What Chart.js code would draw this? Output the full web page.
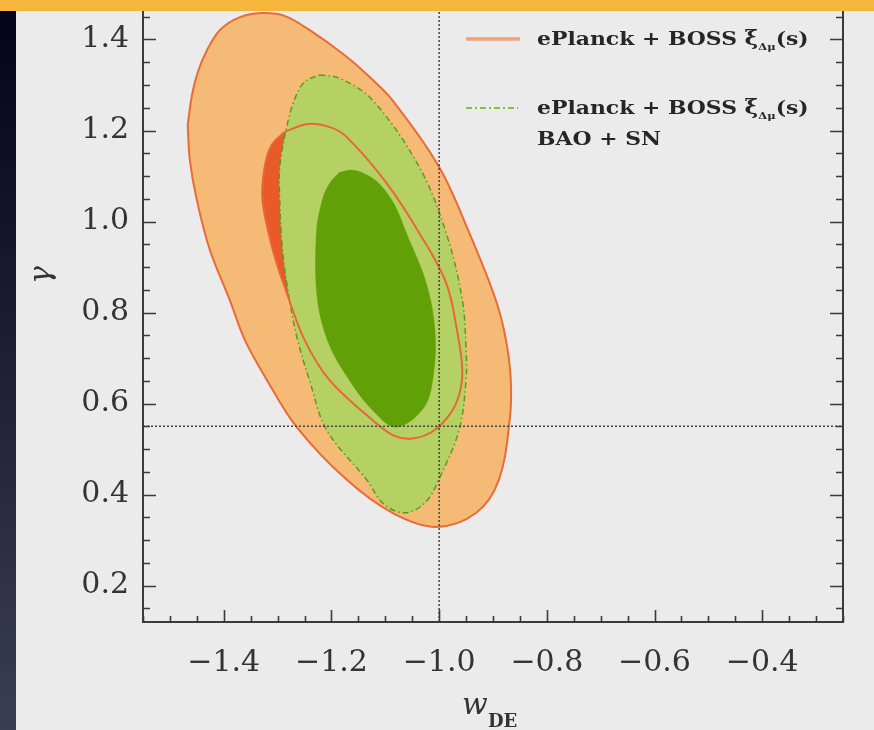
<!DOCTYPE html>
<html lang="en">
<head>
<meta charset="UTF-8">
<title>w_DE vs gamma</title>
<style>
  html, body { margin: 0; padding: 0; background: #ebebeb; }
  .page { position: relative; width: 874px; height: 730px; overflow: hidden; background: #ebebeb; }
  .topbar { position: absolute; left: 0; top: 0; width: 874px; height: 11px; background: #f6b63c; }
  .edge { position: absolute; left: 0; top: 11px; width: 16px; height: 719px; background: linear-gradient(#03031a, #3b3d52); }
  canvas { position: absolute; left: 0; top: 0; }
</style>
<script src="https://cdn.jsdelivr.net/npm/chart.js"></script>
</head>
<body>
<div class="page">
  <canvas id="chart" width="874" height="730"></canvas>
  <div class="edge"></div>
  <div class="topbar"></div>
</div>
<script>
// Axis ranges and tick labels
const xMin = -1.55, xMax = -0.25;
const yMin = 0.12, yMax = 1.4626;
const xTicks = [-1.4, -1.2, -1.0, -0.8, -0.6, -0.4];
const yTicks = [0.2, 0.4, 0.6, 0.8, 1.0, 1.2, 1.4];
const minorStep = 0.05;

// Reference lines (w = -1, gamma = 0.55)
const wLambda = -1.0;
const gammaGR = 0.55;

// Contours, [w_DE, gamma]
// ePlanck + BOSS xi(s): 95% and 68%
const orange95 = [
  [-1.467, 1.212], [-1.459, 1.278], [-1.448, 1.329], [-1.431, 1.377], [-1.407, 1.421],
  [-1.370, 1.449], [-1.330, 1.458], [-1.287, 1.452], [-1.241, 1.421], [-1.176, 1.366],
  [-1.133, 1.322], [-1.087, 1.267], [-1.000, 1.120], [-0.944, 0.975], [-0.895, 0.828],
  [-0.876, 0.740], [-0.867, 0.652], [-0.869, 0.564], [-0.889, 0.433], [-0.931, 0.360],
  [-1.006, 0.329], [-1.087, 0.360], [-1.172, 0.433], [-1.265, 0.549], [-1.320, 0.652],
  [-1.361, 0.740], [-1.389, 0.828], [-1.426, 0.938], [-1.450, 1.047], [-1.463, 1.135]
];
const orange68 = [
  [-1.287, 1.197], [-1.246, 1.214], [-1.204, 1.208], [-1.172, 1.186], [-1.098, 1.085],
  [-1.037, 0.975], [-0.987, 0.865], [-0.967, 0.762], [-0.957, 0.674], [-0.963, 0.619],
  [-0.981, 0.575], [-1.013, 0.538], [-1.050, 0.523], [-1.083, 0.529], [-1.124, 0.564],
  [-1.204, 0.652], [-1.250, 0.740], [-1.283, 0.843], [-1.309, 0.938], [-1.328, 1.047],
  [-1.324, 1.120], [-1.311, 1.168]
];
// ePlanck + BOSS xi(s) + BAO + SN: 95% and 68%
const green95 = [
  [-1.222, 1.322], [-1.185, 1.315], [-1.124, 1.267], [-1.037, 1.120], [-0.987, 0.975],
  [-0.957, 0.828], [-0.950, 0.718], [-0.950, 0.652], [-0.963, 0.542], [-0.998, 0.440],
  [-1.024, 0.385], [-1.061, 0.360], [-1.102, 0.378], [-1.135, 0.433], [-1.209, 0.542],
  [-1.241, 0.652], [-1.263, 0.740], [-1.278, 0.828], [-1.291, 0.938], [-1.296, 1.047],
  [-1.296, 1.120], [-1.283, 1.208], [-1.269, 1.267], [-1.250, 1.307]
];
const green68 = [
  [-1.185, 1.108], [-1.163, 1.113], [-1.137, 1.104], [-1.111, 1.083], [-1.083, 1.037],
  [-1.061, 0.975], [-1.024, 0.865], [-1.008, 0.762], [-1.011, 0.660], [-1.029, 0.590],
  [-1.080, 0.548], [-1.124, 0.586], [-1.167, 0.652], [-1.204, 0.729], [-1.226, 0.828],
  [-1.228, 0.975], [-1.217, 1.047], [-1.204, 1.083]
];

const closed = a => a.concat([a[0]]).map(([x, y]) => ({ x, y }));

const ink = '#333333';
const serif = '"DejaVu Serif", "Liberation Serif", serif';

const datasets = [
  { data: [{ x: wLambda, y: yMin }, { x: wLambda, y: yMax }], borderColor: '#444444', borderWidth: 1.5,
    borderDash: [2, 2], tension: 0, fill: false, order: 0 },
  { data: [{ x: xMin, y: gammaGR }, { x: xMax, y: gammaGR }], borderColor: '#444444', borderWidth: 1.5,
    borderDash: [2, 2], tension: 0, fill: false, order: 0 },
  // 68% orange outline sits on top of the green regions
  { data: closed(orange68), borderColor: '#e8663a', borderWidth: 2, fill: false, order: 1 },
  { data: closed(green68), borderColor: '#62a007', borderWidth: 0.5, backgroundColor: '#62a007', fill: 'shape', order: 2 },
  { data: closed(green95), borderColor: '#5c9c1c', borderWidth: 1.5, borderDash: [6, 3, 1.5, 3],
    backgroundColor: '#b6d163', fill: 'shape', order: 3 },
  { data: closed(orange68), borderColor: '#e95a2b', borderWidth: 0.5, backgroundColor: '#e95a2b', fill: 'shape', order: 4 },
  { data: closed(orange95), borderColor: '#ea6a38', borderWidth: 2, backgroundColor: '#f5bb76', fill: 'shape', order: 5 }
];

// Inward ticks and plot frame
const frame = {
  id: 'frame',
  afterDraw(chart) {
    const { ctx, chartArea: a, scales: { x, y } } = chart;
    ctx.save();
    ctx.strokeStyle = '#3a3a3a';
    ctx.lineWidth = 2;
    ctx.beginPath();
    ctx.moveTo(a.left, a.top - 2); ctx.lineTo(a.left, a.bottom);
    ctx.lineTo(a.right, a.bottom); ctx.lineTo(a.right, a.top - 2);
    ctx.stroke();
    ctx.lineWidth = 1.6;
    const isMajor = v => Math.abs(v / 0.2 - Math.round(v / 0.2)) < 1e-6;
    ctx.beginPath();
    for (let k = Math.ceil(xMin / minorStep - 1e-9); k * minorStep <= xMax + 1e-9; k++) {
      const v = k * minorStep, px = Math.round(x.getPixelForValue(v)) + 0.5;
      const len = isMajor(v) ? 12 : 6;
      ctx.moveTo(px, a.bottom); ctx.lineTo(px, a.bottom - len);
    }
    for (let k = Math.ceil(yMin / minorStep - 1e-9); k * minorStep <= yMax + 1e-9; k++) {
      const v = k * minorStep, py = Math.round(y.getPixelForValue(v)) + 0.5;
      const len = isMajor(v) ? 13 : 7;
      ctx.moveTo(a.left, py); ctx.lineTo(a.left + len, py);
      ctx.moveTo(a.right, py); ctx.lineTo(a.right - len, py);
    }
    ctx.stroke();
    ctx.restore();
  }
};

// Axis titles and legend
const annotations = {
  id: 'annotations',
  afterDraw(chart) {
    const { ctx } = chart;
    ctx.save();
    ctx.fillStyle = ink;
    ctx.textBaseline = 'alphabetic';

    ctx.save();
    ctx.translate(50, 275);
    ctx.rotate(-Math.PI / 2);
    ctx.font = 'italic 30px ' + serif;
    ctx.textAlign = 'center';
    ctx.fillText('γ', 0, 0);
    ctx.restore();

    ctx.textAlign = 'left';
    ctx.font = 'italic 30px ' + serif;
    ctx.fillText('w', 462, 714);
    ctx.font = 'bold 18px ' + serif;
    ctx.fillText('DE', 488, 727);

    // legend swatches
    ctx.strokeStyle = '#f0a27c';
    ctx.lineWidth = 3.5;
    ctx.beginPath(); ctx.moveTo(466, 39); ctx.lineTo(520, 39); ctx.stroke();
    ctx.strokeStyle = '#86c03a';
    ctx.lineWidth = 2;
    ctx.setLineDash([6, 3, 2, 3]);
    ctx.beginPath(); ctx.moveTo(466, 108); ctx.lineTo(518, 108); ctx.stroke();
    ctx.setLineDash([]);

    ctx.fillStyle = '#262626';
    const main = 'bold 19px ' + serif;
    ctx.font = main;
    const sx = 200 / ctx.measureText('ePlanck + BOSS').width;
    const rich = (x0, base, parts) => {
      ctx.save();
      ctx.translate(x0, base);
      ctx.scale(sx, 1);
      let cx = 0;
      for (const p of parts) {
        ctx.font = p.font;
        ctx.fillText(p.t, cx, p.dy || 0);
        cx += ctx.measureText(p.t).width;
      }
      ctx.restore();
    };
    const label = [
      { t: 'ePlanck + BOSS ', font: main },
      { t: 'ξ', font: 'bold 20px ' + serif },
      { t: 'Δμ', font: 'bold 10px ' + serif, dy: 5 },
      { t: '(s)', font: main }
    ];
    rich(537, 45, label);
    rich(537, 114, label);
    rich(537, 145, [{ t: 'BAO + SN', font: main }]);
    ctx.restore();
  }
};

const fmt = v => (v < 0 ? '\u2212' : '') + Math.abs(v).toFixed(1);

new Chart(document.getElementById('chart'), {
  type: 'scatter',
  data: { datasets },
  options: {
    responsive: false,
    animation: false,
    devicePixelRatio: 1,
    layout: { padding: { top: 11, right: 31, left: 0, bottom: 0 } },
    elements: { point: { radius: 0 }, line: { tension: 0.35 } },
    datasets: { scatter: { showLine: true } },
    plugins: { legend: { display: false }, tooltip: { enabled: false } },
    scales: {
      x: {
        type: 'linear', min: xMin, max: xMax,
        grid: { display: false, drawTicks: false }, border: { display: false },
        afterBuildTicks: s => { s.ticks = xTicks.map(v => ({ value: v })); },
        afterFit: s => { s.height = 108; s.paddingLeft = 0; s.paddingRight = 0; },
        ticks: { font: { family: serif, size: 30 }, color: ink, padding: 23, maxRotation: 0, autoSkip: false, callback: v => fmt(v) }
      },
      y: {
        type: 'linear', min: yMin, max: yMax,
        grid: { display: false, drawTicks: false }, border: { display: false },
        afterBuildTicks: s => { s.ticks = yTicks.map(v => ({ value: v })); },
        afterFit: s => { s.width = 143; s.paddingTop = 0; s.paddingBottom = 0; },
        ticks: { font: { family: serif, size: 30 }, color: ink, padding: 14, autoSkip: false, callback: v => fmt(v) }
      }
    }
  },
  plugins: [frame, annotations]
});
</script>
</body>
</html>
